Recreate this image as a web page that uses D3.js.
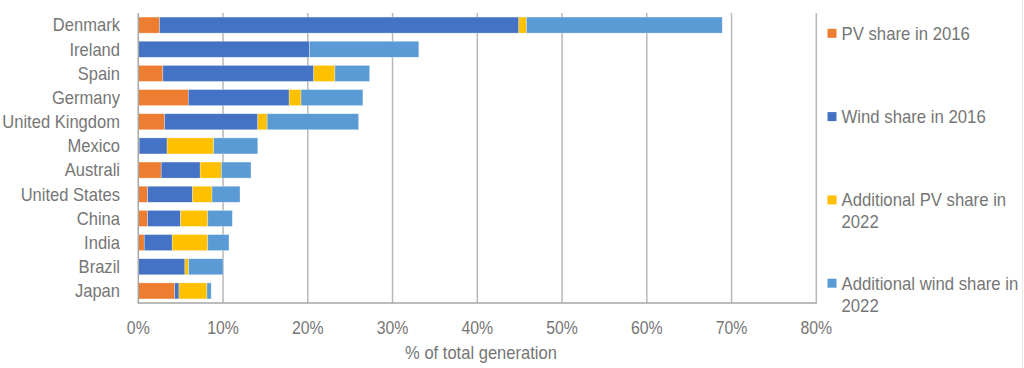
<!DOCTYPE html>
<html>
<head>
<meta charset="utf-8">
<style>
  html, body { margin: 0; padding: 0; background: #fff; }
  svg { display: block; }
  text { font-family: "Liberation Sans", Arial, sans-serif; fill: #767676; }
</style>
</head>
<body>
<svg width="1024" height="368"></svg>
<script src="https://cdn.jsdelivr.net/npm/d3@7"></script>
<script>

var countries = ["Denmark", "Ireland", "Spain", "Germany", "United Kingdom", "Mexico",
                 "Australi", "United States", "China", "India", "Brazil", "Japan"];
var pv2016    = [2.5, 0, 2.9, 5.9, 3.1, 0.1, 2.7, 1.1, 1.1, 0.7, 0, 4.3];
var wind2016  = [42.4, 20.2, 17.8, 11.9, 11.0, 3.3, 4.6, 5.3, 3.9, 3.3, 5.5, 0.5];
var addPv     = [0.9, 0, 2.5, 1.4, 1.1, 5.5, 2.5, 2.3, 3.2, 4.2, 0.45, 3.3];
var addWind   = [23.1, 12.9, 4.1, 7.3, 10.8, 5.2, 3.5, 3.3, 2.9, 2.5, 4.05, 0.5];

var seriesKeys = ["pv", "wind", "addPv", "addWind"];
var seriesNames = [["PV share in 2016"], ["Wind share in 2016"],
                   ["Additional PV share in", "2022"], ["Additional wind share in", "2022"]];
var xTicks = [0, 10, 20, 30, 40, 50, 60, 70, 80];

var colors = ["#ED7D31", "#4472C4", "#FFC000", "#5B9BD5"];

var svg = d3.select("svg");
var plotLeft = 138.3, plotRight = 816.3, plotTop = 13, plotBottom = 303;
var sx = 0.88; // text looks horizontally squeezed in the original

var rows = countries.map(function(c, i) {
  return { country: c, pv: pv2016[i], wind: wind2016[i], addPv: addPv[i], addWind: addWind[i] };
});

var x = d3.scaleLinear().domain([0, 80]).range([plotLeft, plotRight]);
var y = d3.scaleBand().domain(countries).range([plotTop, plotBottom])
    .paddingInner(0.336).paddingOuter(0.168);

var stack = d3.stack().keys(seriesKeys)(rows);

// gridlines
svg.append("g").selectAll("line")
  .data(xTicks.slice(1))
  .enter().append("line")
    .attr("x1", function(d) { return x(d); })
    .attr("x2", function(d) { return x(d); })
    .attr("y1", plotTop).attr("y2", plotBottom)
    .attr("stroke", "#b8b8b8")
    .attr("stroke-width", 1.5);

// bars
svg.append("g").selectAll("g")
  .data(stack)
  .enter().append("g")
    .attr("fill", function(d, i) { return colors[i]; })
  .selectAll("rect")
  .data(function(d) { return d; })
  .enter().append("rect")
    .attr("x", function(d) { return x(d[0]); })
    .attr("width", function(d) { return Math.max(0, x(d[1]) - x(d[0])); })
    .attr("y", function(d) { return y(d.data.country); })
    .attr("height", y.bandwidth())
    .attr("stroke", "#fff")
    .attr("stroke-opacity", 0.5)
    .attr("stroke-width", 0.6);

// axis lines
svg.append("line")
  .attr("x1", plotLeft).attr("x2", plotLeft).attr("y1", plotTop).attr("y2", plotBottom)
  .attr("stroke", "#a6a6a6").attr("stroke-width", 1.5);
svg.append("line")
  .attr("x1", plotLeft - 0.75).attr("x2", plotRight + 0.75).attr("y1", plotBottom).attr("y2", plotBottom)
  .attr("stroke", "#a6a6a6").attr("stroke-width", 1.5);

// x tick labels
svg.append("g").selectAll("text")
  .data(xTicks)
  .enter().append("text")
    .attr("transform", function(d) { return "translate(" + x(d) + ",334) scale(" + sx + ",1)"; })
    .attr("text-anchor", "middle")
    .style("font-size", "18px")
    .text(function(d) { return d + "%"; });

svg.append("text")
  .attr("transform", "translate(481,359) scale(0.92,1)")
  .attr("text-anchor", "middle")
  .style("font-size", "18px")
  .text("% of total generation");

// category labels
svg.append("g").selectAll("text")
  .data(countries)
  .enter().append("text")
    .attr("transform", function(d) {
      return "translate(120," + (y(d) + y.bandwidth() / 2) + ") scale(0.92,1)";
    })
    .attr("text-anchor", "end")
    .attr("dy", "0.35em")
    .style("font-size", "18px")
    .text(function(d) { return d; });

// legend
var legend = svg.append("g").selectAll("g")
  .data(seriesNames)
  .enter().append("g")
    .attr("transform", function(d, i) { return "translate(827.5," + (33.3 + i * 83.3) + ")"; });

legend.append("rect")
  .attr("x", 0).attr("y", -4.5)
  .attr("width", 9).attr("height", 9)
  .attr("fill", function(d, i) { return colors[i]; });

legend.append("text")
  .attr("transform", "translate(14,0) scale(0.93,1)")
  .style("font-size", "18px")
  .selectAll("tspan")
  .data(function(d) { return d; })
  .enter().append("tspan")
    .attr("x", 0)
    .attr("y", function(d, j) { return j * 22.3; })
    .attr("dy", "0.35em")
    .text(function(d) { return d; });

// faint right frame edge
svg.append("line")
  .attr("x1", 1022.5).attr("x2", 1022.5).attr("y1", 0).attr("y2", 368)
  .attr("stroke", "#e6e6e6").attr("stroke-width", 1);

</script>
</body>
</html>
